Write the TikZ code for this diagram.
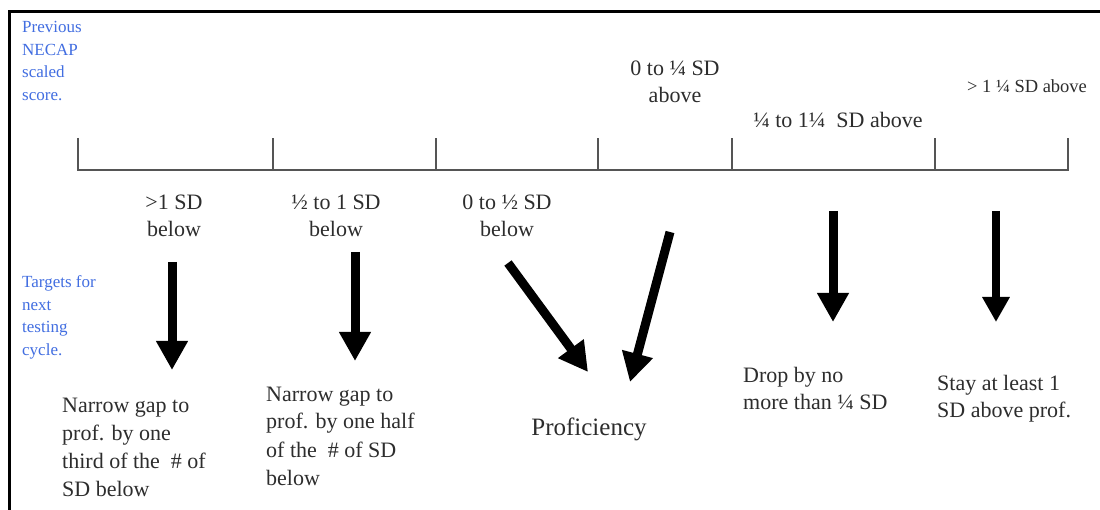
\documentclass[tikz,border=0pt]{standalone}
\usepackage{fontspec}
\setmainfont{Liberation Serif}
\usetikzlibrary{arrows.meta}

\definecolor{labelblue}{RGB}{66,110,225}
\definecolor{inkgray}{RGB}{45,45,45}
\definecolor{axisgray}{RGB}{85,85,85}

% multi-line block whose baseline is the first line
\newcommand{\blockL}[1]{\begin{tabular}[t]{@{}l@{}}#1\end{tabular}}
\newcommand{\blockC}[1]{\begin{tabular}[t]{@{}c@{}}#1\end{tabular}}

\tikzset{
  frameline/.style={line width=3pt, black},
  axisline/.style={line width=1.4pt, axisgray},
  sidenote/.style={inner sep=0pt, anchor=base west, text=labelblue,
    font=\fontsize{17}{22.5}\selectfont},
  rangelabel/.style={inner sep=0pt, anchor=base, text=inkgray,
    font=\fontsize{22}{26.5}\selectfont},
  targetlabel/.style={inner sep=0pt, anchor=base west, text=inkgray,
    font=\fontsize{22}{28}\selectfont},
  bigarrow/.style={line width=9pt, black,
    -{Triangle[width=30pt,length=29pt]}},
  smallarrow/.style={line width=8pt, black,
    -{Triangle[width=26pt,length=25pt]}},
}

\begin{document}
\begin{tikzpicture}[x=1pt, y=-1pt]
\useasboundingbox (0,0) rectangle (1100,510);
\fill[white] (0,0) rectangle (1100,510);

% outer frame: top and left edges
\draw[frameline] (1100,11.5) -- (9,11.5) -- (9,510);

% score scale with its category ticks
\draw[axisline] (78,138) -- (78,170) -- (1068,170) -- (1068,138);
\foreach \tx in {273,436,598,732,935}
  \draw[axisline] (\tx,170) -- (\tx,138);

% side notes
\node[sidenote] (prevnote) at (22,33)
  {\blockL{Previous\\NECAP\\scaled\\score.}};
\node[sidenote] (targetnote) at (22,288)
  {\blockL{Targets for\\next\\testing\\cycle.}};

% score ranges
\node[rangelabel] (r1) at (174,210) {\blockC{>1 SD\\below}};
\node[rangelabel] (r2) at (336,210) {\blockC{½ to 1 SD\\below}};
\node[rangelabel] (r3) at (507,210) {\blockC{0 to ½ SD\\below}};
\node[rangelabel] (r4) at (675,76) {\blockC{0 to ¼ SD\\above}};
\node[rangelabel] (r5) at (838,128) {¼ to 1¼\enspace SD above};
\node[rangelabel, font=\fontsize{18.5}{20}\selectfont] (r6) at (1027,93)
  {> 1 ¼ SD above};

% targets
\node[targetlabel] (t1) at (62,412)
  {\blockL{Narrow gap to\\prof. by one\\third of the\ \ \# of\\SD below}};
\node[targetlabel] (t2) at (266,401)
  {\blockL{Narrow gap to\\prof. by one half\\of the\ \ \# of SD\\below}};
\node[inner sep=0pt, anchor=base, text=inkgray,
  font=\fontsize{25}{30}\selectfont] (prof) at (589,435) {Proficiency};
\node[targetlabel] (t5) at (743,382)
  {\blockL{Drop by no\\more than ¼ SD}};
\node[targetlabel, font=\fontsize{22}{27}\selectfont] (t6) at (937,391)
  {\blockL{Stay at least 1\\SD above prof.}};

% arrow ends
\coordinate (a1s) at (172,262); \coordinate (a1e) at (172,370);
\coordinate (a2s) at (355,252); \coordinate (a2e) at (355,361);
\coordinate (a3s) at (508,263); \coordinate (a3e) at (588,372);
\coordinate (a4s) at (670,232); \coordinate (a4e) at (630,382);
\coordinate (a5s) at (833,211); \coordinate (a5e) at (833,322);
\coordinate (a6s) at (996,211); \coordinate (a6e) at (996,322);

\draw[bigarrow] (a1s) -- (a1e);
\draw[bigarrow] (a2s) -- (a2e);
\draw[bigarrow] (a3s) -- (a3e);
\draw[bigarrow] (a4s) -- (a4e);
\draw[bigarrow] (a5s) -- (a5e);
\draw[smallarrow] (a6s) -- (a6e);
\end{tikzpicture}
\end{document}
